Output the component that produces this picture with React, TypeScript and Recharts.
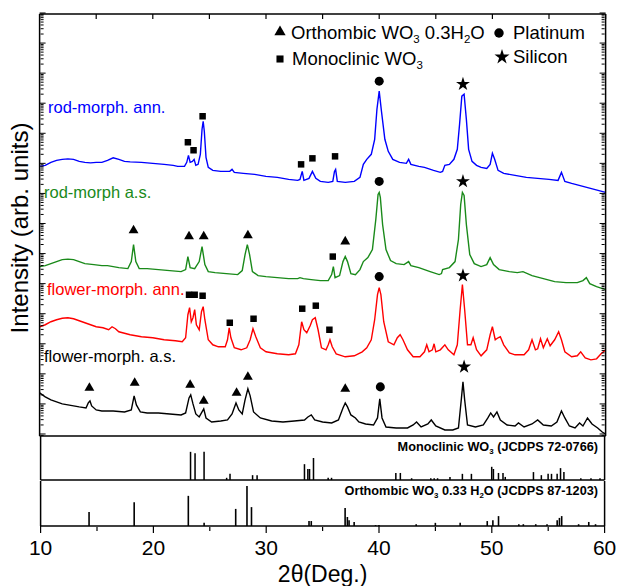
import React from "react";
import { ComposedChart, Line, Scatter, Bar, XAxis, YAxis, Symbols } from "recharts";

// XRD patterns: [2theta (deg), intensity (arb. units, traces already offset)]
const rodAnn: [number, number][] = [
  [10, 269], [10.5, 270], [11, 273], [11.5, 275], [12, 276], [12.5, 276.5], [13, 276], [13.5, 274],
  [14, 273], [14.5, 272.5], [15, 273], [15.5, 273], [16, 275], [16.5, 277.5], [17, 276], [17.5, 274],
  [18, 273.5], [19, 273], [20, 272], [21, 271], [21.8, 270], [22.2, 269], [22.8, 269], [23, 273],
  [23.15, 280], [23.3, 273], [23.5, 274], [23.65, 276], [23.8, 270], [24, 271], [24.2, 281], [24.35, 306],
  [24.45, 314], [24.55, 304], [24.7, 278], [24.9, 268], [25.3, 265], [26, 264], [26.8, 264], [27, 266],
  [27.2, 263], [28, 262], [29, 261], [30, 259], [31, 258], [32, 256], [32.8, 255], [33, 256],
  [33.2, 264], [33.35, 255], [33.8, 257], [34.1, 264], [34.4, 257], [34.8, 254], [35.5, 253], [35.9, 254],
  [36.05, 264], [36.15, 266], [36.3, 254], [37, 253], [37.8, 254], [38.3, 258], [38.6, 271], [38.9, 276],
  [39.3, 281], [39.6, 296], [39.8, 326], [40, 344], [40.2, 324], [40.5, 296], [40.8, 284], [41.2, 276],
  [41.8, 273], [42.4, 272], [42.6, 276], [42.8, 271], [43.5, 269], [44, 268], [44.8, 265], [45.4, 263],
  [45.6, 264], [45.8, 270], [46.2, 271], [46.6, 276], [46.9, 286], [47.1, 311], [47.3, 339], [47.5, 341],
  [47.7, 316], [47.9, 286], [48.2, 274], [48.6, 270], [49, 268], [49.5, 267], [49.8, 271], [50, 282],
  [50.2, 276], [50.5, 265], [51, 262], [52, 260], [53, 258], [54, 257], [55, 256], [55.8, 255],
  [56.1, 263], [56.4, 254], [57, 252], [58, 249], [59, 246], [60, 243],
];

const rodAs: [number, number][] = [
  [10, 169], [10.5, 170], [11, 172], [11.5, 174], [12, 176], [12.5, 176.5], [13, 176], [13.5, 174],
  [14, 172], [14.8, 171], [15.5, 170], [16, 170], [17, 168], [17.8, 167], [18.1, 174], [18.3, 191],
  [18.5, 174], [18.8, 167], [19.5, 167], [20.5, 166], [21.5, 165], [22.5, 164], [22.9, 166], [23.1, 179],
  [23.3, 168], [23.7, 167], [24.1, 174], [24.35, 189], [24.6, 171], [24.9, 164], [25.5, 163], [26.5, 162],
  [27.5, 161], [27.9, 165], [28.15, 181], [28.35, 191], [28.55, 181], [28.8, 164], [29.3, 160], [30, 159],
  [31, 158], [32, 157], [32.8, 157], [33, 158], [33.3, 157], [34, 156], [34.8, 155], [35.5, 155],
  [35.8, 161], [35.95, 169], [36.1, 158], [36.5, 160], [36.8, 174], [37, 179], [37.2, 174], [37.5, 162],
  [37.9, 161], [38.3, 166], [38.6, 174], [39, 178], [39.4, 186], [39.7, 216], [39.9, 241], [40, 243],
  [40.1, 238], [40.3, 211], [40.6, 186], [41, 175], [41.5, 172], [42.2, 171], [42.6, 174], [42.8, 170],
  [43.5, 168], [44.5, 164], [45.3, 161], [45.5, 162], [45.6, 166], [46.2, 168], [46.7, 174], [47, 196],
  [47.2, 231], [47.35, 243], [47.5, 240], [47.7, 211], [48, 181], [48.4, 172], [49, 169], [49.5, 171],
  [49.8, 178], [50.1, 171], [50.6, 166], [51.5, 164], [52.2, 163], [52.7, 164], [53.5, 160], [54.5, 157],
  [55.5, 154], [56.5, 153], [57.5, 153], [58, 155], [58.3, 158], [58.6, 152], [59.2, 149], [60, 146],
];

const flowerAnn: [number, number][] = [
  [10, 109], [10.5, 111], [11, 114], [11.5, 116], [12, 117.5], [12.5, 118], [13, 117], [13.5, 115],
  [14, 113], [14.5, 111], [15, 109], [15.6, 108], [16.1, 106], [16.4, 109], [16.7, 107], [17, 104],
  [18, 101], [19, 99], [20, 98], [21, 96], [22, 95], [22.6, 94], [22.9, 98], [23.1, 121],
  [23.25, 128], [23.4, 114], [23.55, 118], [23.7, 126], [23.85, 111], [24.1, 106], [24.3, 124], [24.45, 129],
  [24.6, 116], [24.9, 96], [25.3, 91], [25.8, 89], [26.4, 89], [26.6, 96], [26.75, 108], [26.9, 98],
  [27.2, 88], [27.8, 86], [28.3, 88], [28.6, 96], [28.85, 107], [29.1, 99], [29.5, 88], [30, 84],
  [31, 82], [32, 81], [32.6, 82], [32.9, 91], [33.15, 114], [33.35, 106], [33.6, 103], [33.9, 110],
  [34.1, 116], [34.35, 118], [34.6, 106], [34.9, 88], [35.3, 86], [35.5, 91], [35.65, 96], [35.85, 89],
  [36.2, 82], [37, 79], [37.8, 80], [38.5, 84], [38.9, 88], [39.3, 96], [39.6, 116], [39.85, 141],
  [40, 148], [40.15, 141], [40.4, 114], [40.8, 94], [41.3, 91], [41.6, 98], [41.85, 101], [42.1, 96],
  [42.5, 86], [43, 79], [43.6, 79], [44, 84], [44.2, 91], [44.4, 84], [44.7, 86], [44.85, 92],
  [45, 84], [45.4, 86], [45.8, 91], [46.1, 86], [46.6, 81], [46.9, 91], [47.15, 126], [47.35, 151],
  [47.55, 126], [47.8, 91], [48.1, 91], [48.3, 98], [48.6, 86], [49, 80], [49.5, 86], [49.8, 101],
  [50, 109], [50.25, 96], [50.5, 98], [50.7, 99], [51, 91], [51.5, 83], [52, 81], [52.8, 81],
  [53.2, 86], [53.5, 96], [53.8, 86], [54, 87], [54.25, 97], [54.5, 88], [54.85, 97], [55.1, 90],
  [55.5, 96], [55.85, 104], [56.1, 96], [56.4, 84], [57, 79], [57.5, 80], [57.8, 84], [58.2, 78],
  [58.7, 76], [59.2, 77], [59.6, 82], [60, 86],
];

const flowerAs: [number, number][] = [
  [10, 43], [10.5, 39], [11, 36], [11.5, 34], [12, 32], [12.5, 31], [13, 30], [13.5, 29],
  [14.1, 28], [14.3, 33], [14.45, 35], [14.6, 30], [15, 26], [15.5, 25], [16.5, 25], [17.5, 24],
  [18.1, 26], [18.35, 40], [18.55, 31], [18.9, 24], [19.5, 23], [20.5, 23], [21.5, 22], [22.5, 21],
  [22.9, 23], [23.2, 38], [23.35, 41], [23.55, 32], [23.8, 22], [24.1, 19], [24.35, 24], [24.5, 27],
  [24.7, 18], [25.2, 14], [26, 15], [26.6, 16], [27, 22], [27.35, 33], [27.6, 26], [27.9, 22],
  [28.15, 36], [28.4, 47], [28.6, 40], [28.9, 24], [29.5, 18], [30.5, 15], [31.5, 14], [32.5, 15],
  [33.4, 16], [33.7, 19], [34, 21], [34.3, 16], [35, 14], [35.8, 13], [36.4, 16], [36.8, 28],
  [37, 33], [37.2, 29], [37.5, 21], [37.9, 18], [38.2, 14], [38.8, 12], [39.5, 11], [39.85, 18],
  [40.05, 37], [40.25, 18], [40.6, 9], [41.5, 8], [42.5, 8], [43, 11], [43.3, 14], [43.7, 9],
  [44.3, 12], [44.6, 16], [45, 10], [45.8, 6], [46.5, 6], [47, 8], [47.25, 36], [47.4, 54],
  [47.55, 36], [47.8, 11], [48.5, 9], [49.2, 11], [49.6, 18], [49.85, 23], [50.1, 19], [50.4, 24],
  [50.7, 16], [51.3, 11], [52, 10], [52.3, 13], [52.8, 9], [53.5, 12], [54, 16], [54.5, 11],
  [55.2, 10], [55.7, 14], [56.1, 25], [56.4, 18], [56.8, 10], [57.3, 8], [57.7, 13], [58, 10],
  [58.4, 18], [58.8, 12], [59.3, 8], [59.7, 4], [60, 2],
];

// phase markers placed over the peaks
const orthoMarks: [number, number][] = [
  [18.3, 205], [23.2, 199], [24.5, 199], [28.4, 200], [37.0, 194],
  [14.4, 48], [18.4, 53], [23.3, 51], [24.5, 35], [27.4, 43], [28.4, 59], [37.0, 47],
];
const monoMarks: [number, number][] = [
  [23.1, 293], [23.6, 285], [24.4, 319], [33.1, 271], [34.1, 277], [36.1, 279],
  [35.9, 179],
  [23.2, 141], [23.7, 141], [24.4, 140], [26.8, 113], [28.9, 117], [33.2, 127], [34.4, 130], [35.6, 106],
];
const ptMarks: [number, number][] = [[40.0, 354], [40.0, 254], [40.0, 159], [40.1, 49]];
const siMarks: [number, number][] = [[47.4, 351], [47.4, 254], [47.4, 160], [47.5, 69]];

// reference cards: [2theta, relative intensity]
const monoRef: [number, number][] = [
  [23.3, 64], [23.7, 61], [24.5, 64], [26.5, 5], [26.8, 14], [28.8, 11], [29.2, 11], [33.4, 36],
  [33.7, 25], [33.85, 25], [34.2, 50], [35.5, 5], [35.8, 5], [41.5, 16], [41.9, 16], [42.9, 4],
  [44.6, 4], [44.9, 4], [45.2, 4], [46.3, 7], [47.4, 14], [48.2, 14], [50.0, 30], [50.15, 25],
  [50.6, 16], [51.0, 16], [51.2, 7], [53.7, 18], [54.4, 11], [55.0, 14], [55.3, 14], [55.8, 14],
  [56.1, 27], [56.4, 18], [57.9, 4], [58.8, 4], [59.6, 4],
];
const orthoRef: [number, number][] = [
  [14.3, 31], [18.3, 53], [23.1, 67], [24.5, 7], [27.3, 38], [28.3, 89], [28.7, 42], [33.8, 11],
  [34.0, 11], [37.0, 40], [37.2, 20], [37.35, 13], [37.8, 9], [39.7, 2], [40.0, 2], [43.3, 4],
  [45.0, 7], [47.2, 7], [49.6, 11], [50.1, 13], [50.6, 22], [52.4, 4], [52.8, 4], [53.9, 4],
  [54.9, 4], [55.8, 13], [56.0, 18], [56.2, 22], [57.7, 4], [58.6, 9], [59.2, 4],
];

const xTicks = [10, 20, 30, 40, 50, 60];
const xMinor = [15, 25, 35, 45, 55];
const xTop = [10, 15, 20, 25, 30, 35, 40, 45, 50, 55, 60];

// log-looking ticks on the intensity axis
const yMajor = [2, 32, 62, 92, 122, 152, 182, 212, 242, 272, 302, 332, 362, 392, 422];
const yMinor = yMajor.flatMap((m) =>
  [2, 3, 4, 5, 6, 7, 8, 9].map((k) => m - (1 - Math.log10(k)) * 30)
).filter((v) => v > 0 && v < 421);

const pts = (a: [number, number][]) => a.map(([x, y]) => ({ x, y }));

const mark = (type: any, size: number) => (p: any) =>
  <Symbols cx={p.cx} cy={p.cy} type={type} size={size} fill="#000" />;

const noLabel = () => <g />;

const L = 41.6;
const R = 16.4;
const W = 620;
const FONT = "'Liberation Sans', Arial, sans-serif";
const axisStroke = { stroke: "#000", strokeWidth: 1.5 };
const tickStroke = { stroke: "#000", strokeWidth: 1 };

// one pair (left + right) of frame axes, each 1px wide
const frameY = (id: string, ticks: number[], size: number, domain: number[], line: boolean) => [
  <YAxis key={id + "l"} yAxisId={id} orientation="left" type="number" domain={domain} ticks={ticks}
    interval={0} tick={noLabel} tickSize={size} mirror width={1} axisLine={line ? axisStroke : false}
    tickLine={size > 0 ? tickStroke : false} />,
  <YAxis key={id + "r"} yAxisId={id + "R"} orientation="right" type="number" domain={domain} ticks={ticks}
    interval={0} tick={noLabel} tickSize={size} mirror width={1} axisLine={line ? axisStroke : false}
    tickLine={size > 0 ? tickStroke : false} />,
];

// invisible series so that the frame-only axes get their ticks
const ghost = (xId: string, yId: string, data: [number, number][]) => (
  <Line key={xId + yId} xAxisId={xId} yAxisId={yId} data={pts(data)} dataKey="y" stroke="none"
    dot={false} activeDot={false} legendType="none" isAnimationActive={false} />
);

const Txt = ({ x, y, size, color = "#000", bold, right, children }: any) => (
  <div style={{
    position: "absolute", top: y - size * 0.6, height: size * 1.2, lineHeight: `${size * 1.2}px`,
    fontSize: size, color, fontWeight: bold ? "bold" : "normal", whiteSpace: "nowrap",
    ...(right ? { right: W - x, textAlign: "right" } : { left: x }),
  }}>{children}</div>
);

const Sub = ({ children }: any) => (
  <span style={{ fontSize: "0.62em", position: "relative", top: "0.35em" }}>{children}</span>
);

const Glyph = ({ x, y, type, size }: any) => (
  <svg style={{ position: "absolute", left: x - 8, top: y - 8 }} width={16} height={16}>
    <Symbols cx={8} cy={8} type={type} size={size} fill="#000" />
  </svg>
);

export default function App() {
  return (
    <div style={{ position: "absolute", left: 0, top: 0, width: W, height: 586, background: "#fff", fontFamily: FONT }}>
      <div style={{ position: "absolute", left: 0, top: 0 }}>
        <ComposedChart width={W} height={437} margin={{ top: 14, right: R - 2, bottom: 0, left: L - 2 }}>
          <XAxis xAxisId="b" dataKey="x" type="number" domain={[10, 60]} ticks={[]} tick={false} tickLine={false}
            height={1} axisLine={axisStroke} allowDataOverflow />
          <XAxis xAxisId="t" orientation="top" dataKey="x" type="number" domain={[10, 60]} ticks={xTop} interval={0}
            tick={noLabel} tickSize={5} mirror height={1} axisLine={axisStroke}
            tickLine={{ stroke: "#000", strokeWidth: 1.2 }} />
          {frameY("l", yMajor, 6, [0, 421], true)}
          {frameY("m", yMinor, 3, [0, 421], false)}
          {ghost("t", "l", flowerAs)}
          {ghost("b", "lR", flowerAs)}
          {ghost("b", "m", flowerAs)}
          {ghost("b", "mR", flowerAs)}
          <Line xAxisId="b" yAxisId="l" data={pts(flowerAs)} dataKey="y" stroke="#000" strokeWidth={1.4} dot={false} isAnimationActive={false} />
          <Line xAxisId="b" yAxisId="l" data={pts(flowerAnn)} dataKey="y" stroke="#ff0000" strokeWidth={1.4} dot={false} isAnimationActive={false} />
          <Line xAxisId="b" yAxisId="l" data={pts(rodAs)} dataKey="y" stroke="#1a8a1a" strokeWidth={1.4} dot={false} isAnimationActive={false} />
          <Line xAxisId="b" yAxisId="l" data={pts(rodAnn)} dataKey="y" stroke="#0000ff" strokeWidth={1.4} dot={false} isAnimationActive={false} />
          <Scatter xAxisId="b" yAxisId="l" data={pts(orthoMarks)} dataKey="y" shape={mark("triangle", 42)} isAnimationActive={false} />
          <Scatter xAxisId="b" yAxisId="l" data={pts(monoMarks)} dataKey="y" shape={mark("square", 42)} isAnimationActive={false} />
          <Scatter xAxisId="b" yAxisId="l" data={pts(ptMarks)} dataKey="y" shape={mark("circle", 64)} isAnimationActive={false} />
          <Scatter xAxisId="b" yAxisId="l" data={pts(siMarks)} dataKey="y" shape={mark("star", 60)} isAnimationActive={false} />
        </ComposedChart>
      </div>

      <div style={{ position: "absolute", left: 0, top: 436 }}>
        <ComposedChart width={W} height={45} margin={{ top: 0, right: R - 1, bottom: 0, left: L - 1 }} data={pts(monoRef)}>
          <XAxis dataKey="x" type="number" domain={[10, 60]} ticks={[]} tick={false} tickLine={false} height={1}
            axisLine={axisStroke} />
          {frameY("l", [], 0, [0, 100], true)}
          <Bar yAxisId="l" dataKey="y" fill="#000" barSize={2} isAnimationActive={false} />
        </ComposedChart>
      </div>

      <div style={{ position: "absolute", left: 0, top: 480 }}>
        <ComposedChart width={W} height={106} margin={{ top: 1, right: R - 1, bottom: 58, left: L - 1 }} data={pts(orthoRef)}>
          <XAxis xAxisId="main" dataKey="x" type="number" domain={[10, 60]} ticks={xTicks} interval={0} tickSize={7}
            tickMargin={7} height={1} axisLine={axisStroke}
            tickLine={{ stroke: "#000", strokeWidth: 1.2 }} tick={{ fontSize: 21, fill: "#000" }} />
          <XAxis xAxisId="minor" dataKey="x" type="number" domain={[10, 60]} ticks={xMinor} interval={0} tick={noLabel}
            tickSize={4} height={1} axisLine={false} tickLine={{ stroke: "#000", strokeWidth: 1.2 }} />
          {frameY("l", [], 0, [0, 100], true)}
          {ghost("minor", "l", orthoRef)}
          <Bar xAxisId="main" yAxisId="l" dataKey="y" fill="#000" barSize={1.6} isAnimationActive={false} />
        </ComposedChart>
      </div>

      {/* legend */}
      <Glyph x={280} y={32} type="triangle" size={55} />
      <Txt x={291} y={33} size={18.5}>Orthombic WO<Sub>3</Sub> 0.3H<Sub>2</Sub>O</Txt>
      <Glyph x={280} y={59} type="square" size={50} />
      <Txt x={292} y={59} size={18.5}>Monoclinic WO<Sub>3</Sub></Txt>
      <Glyph x={499} y={33} type="circle" size={70} />
      <Txt x={513} y={33} size={18.5}>Platinum</Txt>
      <Glyph x={502} y={57} type="star" size={70} />
      <Txt x={513} y={57} size={18.5}>Silicon</Txt>

      {/* trace names */}
      <Txt x={48} y={108} size={16.5} color="#0000ff">rod-morph. ann.</Txt>
      <Txt x={44} y={193} size={16.5} color="#1a8a1a">rod-morph a.s.</Txt>
      <Txt x={47} y={290} size={16.5} color="#ff0000">flower-morph. ann.</Txt>
      <Txt x={44} y={357} size={16.5}>flower-morph. a.s.</Txt>

      {/* reference card names */}
      <Txt x={598} y={448} size={12.7} bold right>Monoclinic WO<Sub>3</Sub> (JCDPS 72-0766)</Txt>
      <Txt x={598} y={492} size={12.7} bold right>Orthombic WO<Sub>3</Sub> 0.33 H<Sub>2</Sub>O (JCDPS 87-1203)</Txt>

      {/* axis titles */}
      <div style={{
        position: "absolute", left: 20 - 150, top: 228 - 15, width: 300, height: 30, lineHeight: "30px",
        textAlign: "center", fontSize: 24, transform: "rotate(-90deg)", whiteSpace: "nowrap",
      }}>Intensity (arb. units)</div>
      <div style={{
        position: "absolute", left: 322.6 - 100, top: 574 - 11, width: 200, height: 22, lineHeight: "22px",
        textAlign: "center", fontSize: 23, whiteSpace: "nowrap",
      }}>2θ(Deg.)</div>
    </div>
  );
}
